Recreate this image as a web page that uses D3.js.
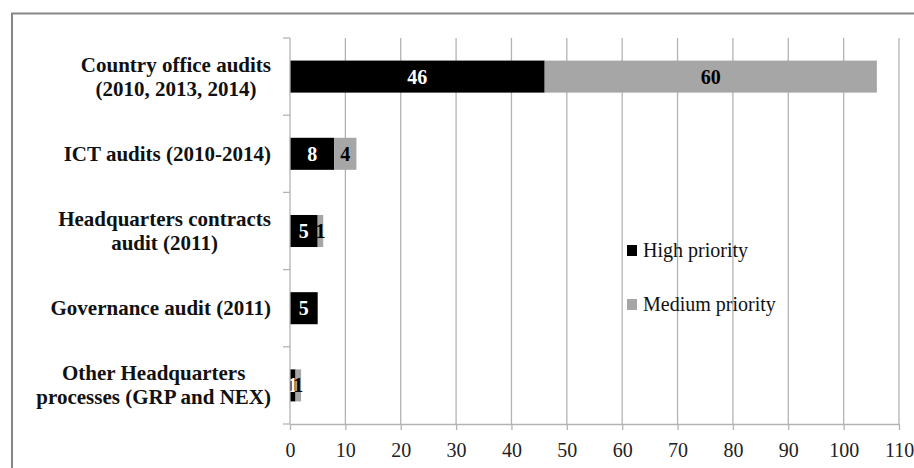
<!DOCTYPE html>
<html>
<head>
<meta charset="utf-8">
<script src="https://cdn.jsdelivr.net/npm/d3@7/dist/d3.min.js"></script>
<style>
  html, body { margin: 0; padding: 0; background: #fff; }
  svg { display: block; }
  text { font-family: "Liberation Serif", "Times New Roman", serif; }
</style>
</head>
<body>
<svg id="chart" width="914" height="468"></svg>
<script>
// Audit recommendations by priority
const categories = [
  ["Country office audits", "(2010, 2013, 2014)"],
  ["ICT audits (2010-2014)"],
  ["Headquarters contracts", "audit (2011)"],
  ["Governance audit (2011)"],
  ["Other Headquarters", "processes (GRP and NEX)"]
];
const highPriority   = [46, 8, 5, 5, 1];
const mediumPriority = [60, 4, 1, 0, 1];
const seriesNames = ["High priority", "Medium priority"];
const xTicks = [0, 10, 20, 30, 40, 50, 60, 70, 80, 90, 100, 110];

const colors = ["#000000", "#a6a6a6"];
const gridColor = "#b3b3b3";

const svg = d3.select("#chart");
const margin = { left: 290, right: 15, top: 38, bottom: 44 };
const W = 914, H = 468;

// Outer frame
svg.append("rect")
  .attr("x", 12).attr("y", 13.5)
  .attr("width", 920).attr("height", 480)
  .attr("fill", "none")
  .attr("stroke", "#878787")
  .attr("stroke-width", 2);

const x = d3.scaleLinear().domain([0, 110]).range([290, 899]);
const y = d3.scaleBand()
  .domain(d3.range(categories.length))
  .range([38, 424])
  .paddingInner(0.585)
  .paddingOuter(0.2925);

// Vertical gridlines
svg.append("g")
  .selectAll("line")
  .data(xTicks.filter(t => t > 0))
  .join("line")
  .attr("x1", d => x(d)).attr("x2", d => x(d))
  .attr("y1", 38).attr("y2", 424)
  .attr("stroke", gridColor)
  .attr("stroke-width", 1.3);

// Stacked bars
const rows = categories.map((c, i) => ({ i, vals: [highPriority[i], mediumPriority[i]] }));
const segs = [];
rows.forEach(r => {
  let acc = 0;
  r.vals.forEach((v, s) => {
    segs.push({ i: r.i, s, v, x0: acc, x1: acc + v });
    acc += v;
  });
});

svg.append("g")
  .selectAll("rect")
  .data(segs.filter(d => d.v > 0))
  .join("rect")
  .attr("x", d => x(d.x0))
  .attr("y", d => y(d.i))
  .attr("width", d => x(d.x1) - x(d.x0))
  .attr("height", y.bandwidth())
  .attr("fill", d => colors[d.s]);

// Value labels
svg.append("g")
  .selectAll("text")
  .data(segs.filter(d => d.v > 0))
  .join("text")
  .attr("x", d => (x(d.x0) + x(d.x1)) / 2)
  .attr("y", d => y(d.i) + y.bandwidth() / 2 + 7)
  .attr("text-anchor", "middle")
  .attr("font-size", 20)
  .attr("font-weight", "bold")
  .attr("fill", d => d.s === 0 ? "#ffffff" : "#000000")
  .text(d => d.v);

// Bottom axis
const xAxis = svg.append("g")
  .attr("transform", "translate(0,424)")
  .call(d3.axisBottom(x).tickValues(xTicks).tickSize(6).tickSizeOuter(0));
xAxis.select(".domain").attr("stroke", gridColor).attr("stroke-width", 1.3);
xAxis.selectAll(".tick line").attr("stroke", gridColor).attr("stroke-width", 1.3);
xAxis.selectAll(".tick text")
  .attr("font-family", "Liberation Serif, Times New Roman, serif")
  .attr("font-size", 20)
  .attr("fill", "#222")
  .attr("dy", null)
  .attr("y", 33);

// Left axis (ticks at band boundaries)
const bounds = d3.range(categories.length + 1).map(k => 38 + k * y.step());
const yAxis = svg.append("g");
yAxis.append("line")
  .attr("x1", 290).attr("x2", 290)
  .attr("y1", 38).attr("y2", 424)
  .attr("stroke", gridColor).attr("stroke-width", 1.3);
yAxis.selectAll("line.tk")
  .data(bounds)
  .join("line")
  .attr("class", "tk")
  .attr("x1", 283).attr("x2", 290)
  .attr("y1", d => d).attr("y2", d => d)
  .attr("stroke", gridColor).attr("stroke-width", 1.3);

// Category labels: each block centred, block right-aligned to the axis
const labelRight = 271;
const lineH = 24;
categories.forEach((lines, i) => {
  const cy = y(i) + y.bandwidth() / 2;
  const g = svg.append("g");
  const texts = lines.map((ln, k) =>
    g.append("text")
      .attr("font-size", 21)
      .attr("font-weight", "bold")
      .attr("fill", "#111")
      .attr("text-anchor", "middle")
      .attr("y", cy + 7 + (k - (lines.length - 1) / 2) * lineH)
      .text(ln));
  const maxW = d3.max(texts, t => t.node().getComputedTextLength());
  texts.forEach(t => t.attr("x", labelRight - maxW / 2));
});

// Legend
const legend = svg.append("g");
seriesNames.forEach((name, s) => {
  const ly = 251 + s * 54;
  legend.append("rect")
    .attr("x", 627).attr("y", ly - 6)
    .attr("width", 10).attr("height", 11)
    .attr("fill", colors[s]);
  legend.append("text")
    .attr("x", 643).attr("y", ly + 6)
    .attr("font-size", 20)
    .attr("fill", "#111")
    .text(name);
});
</script>
</body>
</html>
